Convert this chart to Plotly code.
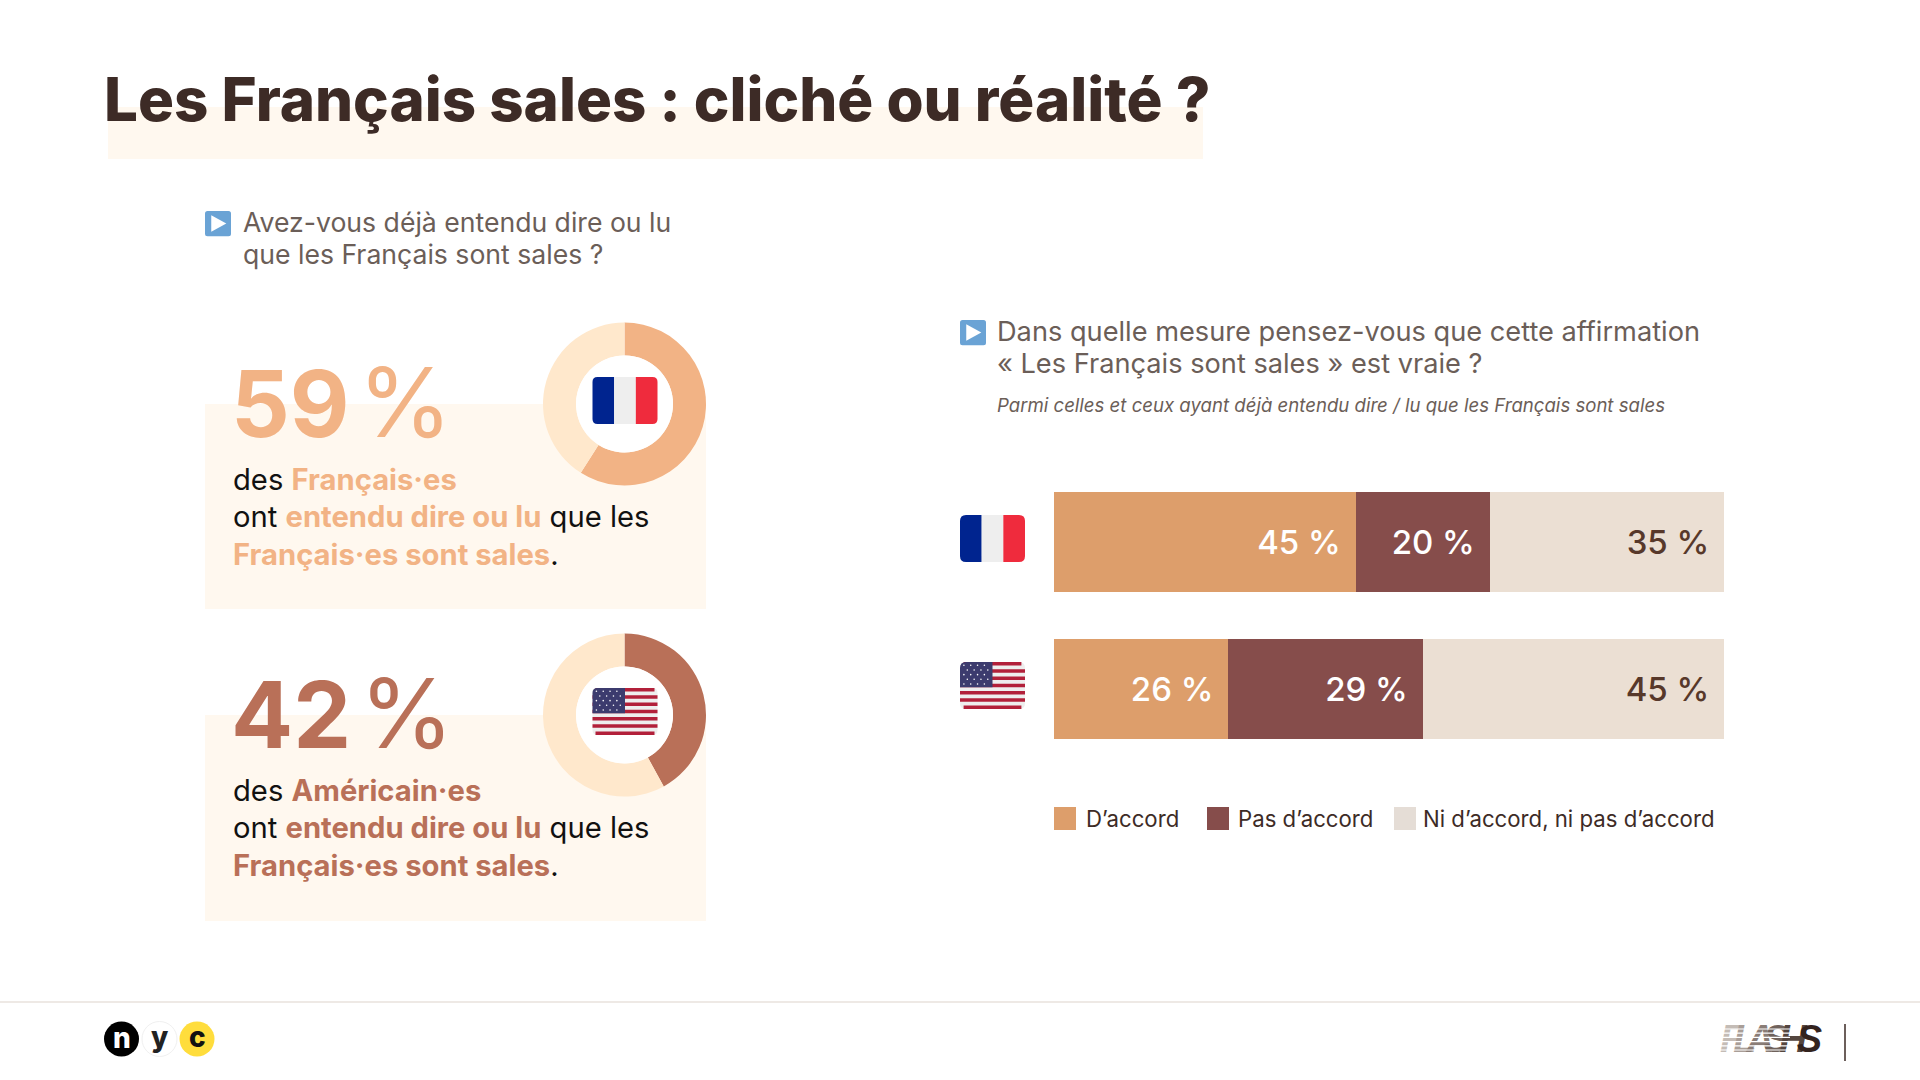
import plotly.graph_objects as go

# stacked bars
countries = ["France", "États-Unis"]
series_names = ["D’accord", "Pas d’accord", "Ni d’accord, ni pas d’accord"]
agree = [45, 26]
disagree = [20, 29]
neither = [35, 45]
bar_colors = ["#DD9E6B", "#864D4B", "#EBDFD3"]
label_colors = ["white", "white", "#57382A"]
legend_colors = ["#DD9E6B", "#864D4B", "#E5DDD6"]

# donuts
heard_fr = [59, 41]
heard_us = [42, 58]
color_fr = "#F2B385"
color_us = "#B97058"
color_rest = "#FFE8CC"
pale = "#FFF8EF"

title_color = "#3D2B26"
grey_text = "#6B5E58"
body_font = "Inter"


def span(txt, col):
    return f'<span style="color:{col}"><b>{txt}</b></span>'


fig = go.Figure()

# the bars sit on their own axes, the rest of the page uses x2/y2 in pixels
for name, vals, col, lab in zip(series_names, [agree, disagree, neither], bar_colors, label_colors):
    fig.add_trace(go.Bar(
        y=countries, x=vals, name=name, orientation="h",
        marker=dict(color=col, line=dict(width=0)),
        text=[f"{v} %\u00a0\u200a" for v in vals],
        textposition="inside", insidetextanchor="end", textangle=0,
        insidetextfont=dict(family=body_font, size=33, color=lab, weight=500),
        constraintext="none", showlegend=False, hoverinfo="skip",
    ))


def donut(vals, col, cx, cy, r):
    fig.add_trace(go.Pie(
        values=vals, sort=False, direction="clockwise", rotation=0, hole=0.595,
        marker=dict(colors=[col, color_rest], line=dict(width=0)),
        textinfo="none", showlegend=False, hoverinfo="skip",
        domain=dict(x=[(cx - r) / 1920, (cx + r) / 1920],
                    y=[1 - (cy + r) / 1080, 1 - (cy - r) / 1080]),
    ))


donut(heard_fr, color_fr, 624.5, 404, 81.5)
donut(heard_us, color_us, 624.5, 715, 81.5)

# FLASHS goes in as a trace so the white stripes can sit over it
flash_letters = ["F", "L", "A", "S", "H", "S"]
flash_cols = ["#C4BCB6", "#A99E98", "#8A7D77", "#6F625C", "#54463F", "#33231E"]
flash_text = "".join(f'<span style="color:{c};letter-spacing:-10px">{t}</span>' for t, c in zip(flash_letters, flash_cols))
fig.add_trace(go.Scatter(
    x=[1766], y=[1042], mode="text", text=[f"<b><i>{flash_text}</i></b>"],
    textfont=dict(family="Liberation Sans", size=38),
    textposition="middle center", xaxis="x2", yaxis="y2",
    showlegend=False, hoverinfo="skip", cliponaxis=False,
))

shapes = []
notes = []


def rect(x0, y0, x1, y1, col, layer="below"):
    shapes.append(dict(type="rect", xref="x2", yref="y2", x0=x0, y0=y0, x1=x1, y1=y1,
                       fillcolor=col, line=dict(width=0), layer=layer))


def circle(cx, cy, r, col, line_col=None):
    shapes.append(dict(type="circle", xref="x2", yref="y2", x0=cx - r, y0=cy - r, x1=cx + r, y1=cy + r,
                       fillcolor=col, line=dict(width=1 if line_col else 0, color=line_col or col), layer="above"))


def round_path(x0, y0, x1, y1, r):
    return (f"M{x0 + r},{y0} L{x1 - r},{y0} Q{x1},{y0} {x1},{y0 + r} L{x1},{y1 - r} Q{x1},{y1} {x1 - r},{y1} "
            f"L{x0 + r},{y1} Q{x0},{y1} {x0},{y1 - r} L{x0},{y0 + r} Q{x0},{y0} {x0 + r},{y0} Z")


def path(d, col):
    shapes.append(dict(type="path", xref="x2", yref="y2", path=d, fillcolor=col, line=dict(width=0), layer="above"))


def note(x, y, txt, size, col=title_color, family=body_font, anchor="left", weight=None):
    notes.append(dict(xref="x2", yref="y2", x=x, y=y, text=txt, showarrow=False, xanchor=anchor, yanchor="middle",
                      font=dict(family=family, size=size, color=col, weight=weight)))


def flag_fr(x0, y0, x1, y1, r):
    w = (x1 - x0) / 3
    path(f"M{x0 + w},{y0} L{x0 + r},{y0} Q{x0},{y0} {x0},{y0 + r} L{x0},{y1 - r} Q{x0},{y1} {x0 + r},{y1} L{x0 + w},{y1} Z", "#00248F")
    rect(x0 + w, y0, x1 - w, y1, "#EEEEEE", "above")
    path(f"M{x1 - w},{y0} L{x1 - r},{y0} Q{x1},{y0} {x1},{y0 + r} L{x1},{y1 - r} Q{x1},{y1} {x1 - r},{y1} L{x1 - w},{y1} Z", "#EF2B3D")


def flag_us(x0, y0, x1, y1, r):
    path(round_path(x0, y0, x1, y1, r), "#EEEEEE")
    h = (y1 - y0) / 13
    for i in range(0, 13, 2):
        ya, yb = y0 + i * h, y0 + (i + 1) * h
        inset = r * 0.6 if i in (0, 12) else 0
        rect(x0 + inset, ya, x1 - inset, yb, "#B2203A", "above")
    cw = (x1 - x0) * 0.5
    ch = h * 7
    path(f"M{x0 + cw},{y0} L{x0 + r},{y0} Q{x0},{y0} {x0},{y0 + r} L{x0},{y0 + ch} L{x0 + cw},{y0 + ch} Z", "#3C3B6E")
    for row in range(5):
        off = 0.5 if row % 2 else 0
        for c in range(4):
            sx = x0 + cw * (0.12 + (c + off) * 0.21)
            sy = y0 + ch * (0.13 + row * 0.185)
            circle(sx, sy, (x1 - x0) * 0.012, "#FFFFFF")


def play(x0, y0, s):
    path(round_path(x0, y0, x0 + s, y0 + s * 0.97, 2.5), "#6AA3D5")
    path(f"M{x0 + s * 0.24},{y0 + s * 0.16} L{x0 + s * 0.82},{y0 + s * 0.48} L{x0 + s * 0.24},{y0 + s * 0.8} Z", "white")


# title
rect(108, 107, 1203, 159, pale)
note(102, 99, "Les Français sales : cliché ou réalité ?", 60, title_color, body_font, weight=800)

# left column
play(205, 211, 26)
note(241, 222, "Avez-vous déjà entendu dire ou lu", 26.6, grey_text)
note(241, 254, "que les Français sont sales ?", 26.6, grey_text)

rect(205, 404, 706, 609, pale)
rect(205, 715, 706, 921, pale)
for cy, pct, who, col, draw in [(404, heard_fr[0], "Français·es", color_fr, flag_fr),
                                (715, heard_us[0], "Américain·es", color_us, flag_us)]:
    circle(624.5, cy, 48.5, "white")
    draw(592.5, cy - 27, 657.5, cy + 20, 5)
    note(229, cy - 2, f'<b>{pct}</b>\u200a<span style="font-size:96px">%</span>', 92, col)
    note(231, cy + 75, "des " + span(who, col), 29.2, "#111111")
    note(231, cy + 112, "ont " + span("entendu dire ou lu", col) + " que les", 29.2, "#111111")
    note(231, cy + 150, span("Français·es sont sales", col) + ".", 29.2, "#111111")

# right column
play(960, 320, 26)
note(995, 331, "Dans quelle mesure pensez-vous que cette affirmation", 27.2, grey_text)
note(995, 363, "« Les Français sont sales » est vraie ?", 27.2, grey_text)
note(995, 405, "<i>Parmi celles et ceux ayant déjà entendu dire / lu que les Français sont sales</i>", 18.6, grey_text)

flag_fr(960, 515, 1025, 562, 6)
flag_us(960, 662, 1025, 709, 6)

# legend
for name, col, sx, tx in zip(series_names, legend_colors, [1054, 1207, 1394], [1084, 1236, 1421]):
    rect(sx, 807, sx + 22, 830, col)
    note(tx, 818, name, 22.2, title_color)

# footer
shapes.append(dict(type="line", xref="x2", yref="y2", x0=0, x1=1920, y0=1002, y1=1002,
                   line=dict(color="#E9E2DC", width=1.5), layer="below"))
circle(121.5, 1039, 17.5, "#000000")
circle(159.5, 1039, 17.5, "#FFFFFF", "#F0F0F0")
circle(197, 1039, 17.5, "#FFDD3C")
note(121.5, 1038, "n", 28, "white", body_font, "center", 800)
note(159.5, 1037, "y", 28, "#222222", body_font, "center", 800)
note(197, 1037, "c", 28, "#111111", body_font, "center", 800)
for k in range(7):
    y = 1029 + k * 4.2
    shapes.append(dict(type="line", xref="x2", yref="y2", x0=1720, x1=1790, y0=y, y1=y,
                       line=dict(color="white", width=1.2), layer="above"))
shapes.append(dict(type="line", xref="x2", yref="y2", x0=1845, x1=1845, y0=1024, y1=1061,
                   line=dict(color="#3B2A25", width=1.5), layer="above"))

fig.update_layout(
    width=1920, height=1080, margin=dict(l=0, r=0, t=0, b=0),
    paper_bgcolor="white", plot_bgcolor="rgba(0,0,0,0)",
    barmode="stack", bargap=0.32,
    xaxis=dict(domain=[1054 / 1920, 1724 / 1920], range=[0, 100], visible=False),
    yaxis=dict(domain=[1 - 762.5 / 1080, 1 - 468.5 / 1080], categoryorder="array", categoryarray=countries,
               autorange="reversed", visible=False),
    xaxis2=dict(domain=[0, 1], range=[0, 1920], visible=False, anchor="y2"),
    yaxis2=dict(domain=[0, 1], range=[1080, 0], visible=False, anchor="x2"),
    shapes=shapes, annotations=notes,
)

# plain page with no body margin so the pixels line up
fig.write_html("out.html", config={"displayModeBar": False}, post_script="document.body.style.margin='0';")
